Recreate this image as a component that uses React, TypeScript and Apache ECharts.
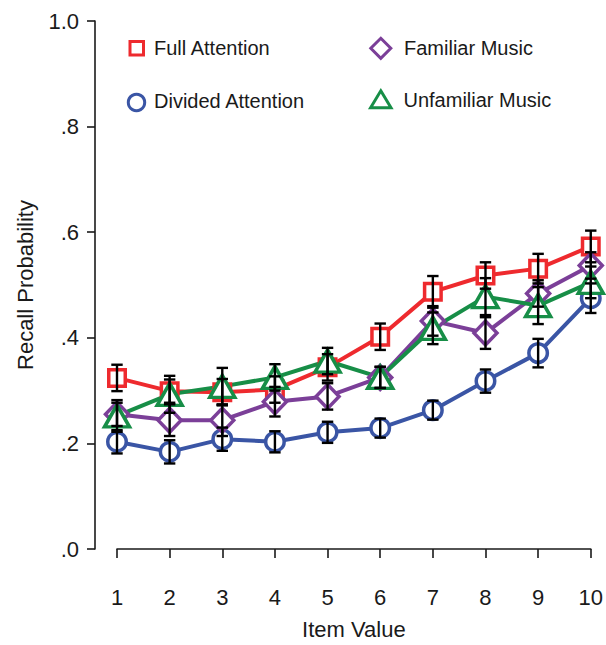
import React, { useEffect, useRef } from "react";
import * as echarts from "echarts";

const itemValues = [1, 2, 3, 4, 5, 6, 7, 8, 9, 10];
const yTicks = [0, 0.2, 0.4, 0.6, 0.8, 1.0];

const fullMean = [0.324, 0.299, 0.297, 0.302, 0.344, 0.402, 0.487, 0.518, 0.531, 0.573];
const fullErr = [0.025, 0.022, 0.025, 0.025, 0.025, 0.025, 0.03, 0.025, 0.028, 0.03];

const dividedMean = [0.203, 0.184, 0.208, 0.203, 0.221, 0.229, 0.263, 0.318, 0.371, 0.475];
const dividedErr = [0.022, 0.022, 0.022, 0.02, 0.02, 0.018, 0.018, 0.022, 0.027, 0.028];

const familiarMean = [0.255, 0.244, 0.244, 0.279, 0.289, 0.325, 0.432, 0.409, 0.484, 0.537];
const familiarErr = [0.022, 0.03, 0.03, 0.028, 0.025, 0.02, 0.028, 0.03, 0.025, 0.025];

const unfamiliarMean = [0.252, 0.293, 0.308, 0.325, 0.356, 0.325, 0.418, 0.478, 0.461, 0.505];
const unfamiliarErr = [0.03, 0.035, 0.035, 0.025, 0.025, 0.02, 0.03, 0.035, 0.035, 0.03];

const FONT = "'Liberation Sans', Arial, Helvetica, sans-serif";

const RED = "#EE2A2E";
const BLUE = "#3A55A5";
const PURPLE = "#7B3F98";
const GREEN = "#178E47";
const INK = "#1a1a1a";

type Spec = {
  name: string;
  mean: number[];
  err: number[];
  color: string;
  symbol: string;
  size: number | number[];
};

const specs: Spec[] = [
  { name: "Divided Attention", mean: dividedMean, err: dividedErr, color: BLUE, symbol: "circle", size: 18.5 },
  { name: "Full Attention", mean: fullMean, err: fullErr, color: RED, symbol: "rect", size: 16.5 },
  { name: "Familiar Music", mean: familiarMean, err: familiarErr, color: PURPLE, symbol: "diamond", size: [23, 24] },
  { name: "Unfamiliar Music", mean: unfamiliarMean, err: unfamiliarErr, color: GREEN, symbol: "triangle", size: [25, 22] },
];

function legendText(text: string, x: number, y: number) {
  return {
    type: "text",
    x,
    y,
    silent: true,
    style: {
      text,
      fontFamily: FONT,
      fontSize: 20,
      fill: INK,
      align: "left",
      verticalAlign: "middle",
    },
  };
}

export default function App() {
  const ref = useRef<HTMLDivElement>(null);

  useEffect(() => {
    document.body.style.margin = "0";
    if (!ref.current) return;
    const chart = echarts.init(ref.current, undefined, { renderer: "svg" });

    const lineSeries = specs.map((s) => ({
      type: "line",
      name: s.name,
      data: itemValues.map((x, i) => [x, s.mean[i]]),
      symbol: s.symbol,
      symbolSize: s.size,
      showSymbol: true,
      lineStyle: { color: s.color, width: 4 },
      itemStyle: { color: "#ffffff", borderColor: s.color, borderWidth: 3.5 },
      z: 2,
    }));

    const errSeries = specs.map((s) => ({
      type: "custom",
      name: s.name + " error",
      data: itemValues.map((x, i) => [x, s.mean[i], s.mean[i] - s.err[i], s.mean[i] + s.err[i]]),
      encode: { x: 0, y: [2, 3] },
      z: 5,
      silent: true,
      renderItem: (params: any, api: any) => {
        const x = api.value(0);
        const lo = api.coord([x, api.value(2)]);
        const hi = api.coord([x, api.value(3)]);
        const hw = 5.7;
        const style = { stroke: "#000", lineWidth: 2.4, fill: "none" };
        return {
          type: "group",
          children: [
            { type: "line", shape: { x1: lo[0], y1: lo[1], x2: hi[0], y2: hi[1] }, style },
            { type: "line", shape: { x1: lo[0] - hw, y1: lo[1], x2: lo[0] + hw, y2: lo[1] }, style },
            { type: "line", shape: { x1: hi[0] - hw, y1: hi[1], x2: hi[0] + hw, y2: hi[1] }, style },
          ],
        };
      },
    }));

    const option: any = {
      animation: false,
      backgroundColor: "#ffffff",
      textStyle: { fontFamily: FONT },
      graphic: [
        {
          type: "rect",
          silent: true,
          shape: { x: 130, y: 41.5, width: 13.5, height: 13.5 },
          style: { fill: "none", stroke: RED, lineWidth: 3 },
        },
        legendText("Full Attention", 154, 48),
        {
          type: "circle",
          silent: true,
          shape: { cx: 136.5, cy: 102.5, r: 8.2 },
          style: { fill: "none", stroke: BLUE, lineWidth: 3 },
        },
        legendText("Divided Attention", 154, 101),
        {
          type: "polygon",
          silent: true,
          shape: { points: [[380.8, 38.3], [390.8, 48.3], [380.8, 58.3], [370.8, 48.3]] },
          style: { fill: "none", stroke: PURPLE, lineWidth: 3 },
        },
        legendText("Familiar Music", 404, 48),
        {
          type: "polygon",
          silent: true,
          shape: { points: [[380.8, 90.8], [391, 107.8], [370.6, 107.8]] },
          style: { fill: "none", stroke: GREEN, lineWidth: 3, lineJoin: "miter" },
        },
        legendText("Unfamiliar Music", 403.5, 100),
      ],
      grid: { left: 117, right: 9, top: 21, bottom: 93, containLabel: false },
      xAxis: {
        type: "value",
        min: 1,
        max: 10,
        interval: 1,
        offset: 21,
        splitLine: { show: false },
        axisLine: { show: true, lineStyle: { color: INK, width: 1.6 } },
        axisTick: { show: true, length: 9, lineStyle: { color: INK, width: 1.6 } },
        axisLabel: {
          margin: 16,
          fontFamily: FONT,
          fontSize: 22,
          color: INK,
          formatter: (v: number) => String(v),
        },
        name: "Item Value",
        nameLocation: "middle",
        nameGap: 48,
        nameTextStyle: { fontFamily: FONT, fontSize: 22, color: INK },
      },
      yAxis: {
        type: "value",
        min: 0,
        max: 1,
        interval: 0.2,
        offset: 22,
        splitLine: { show: false },
        axisLine: { show: true, lineStyle: { color: INK, width: 1.6 } },
        axisTick: { show: true, length: 8, lineStyle: { color: INK, width: 1.6 } },
        axisLabel: {
          margin: 16,
          fontFamily: FONT,
          fontSize: 22,
          color: INK,
          formatter: (v: number) => {
            const t = yTicks.find((k) => Math.abs(k - v) < 1e-6);
            if (t === undefined) return "";
            return t >= 1 ? "1.0" : "." + Math.round(t * 10);
          },
        },
        name: "Recall Probability",
        nameLocation: "middle",
        nameGap: 59,
        nameTextStyle: { fontFamily: FONT, fontSize: 22, color: INK },
      },
      series: [...lineSeries, ...errSeries],
    };

    chart.setOption(option);
    return () => chart.dispose();
  }, []);

  return <div ref={ref} style={{ width: 606, height: 645 }} />;
}
